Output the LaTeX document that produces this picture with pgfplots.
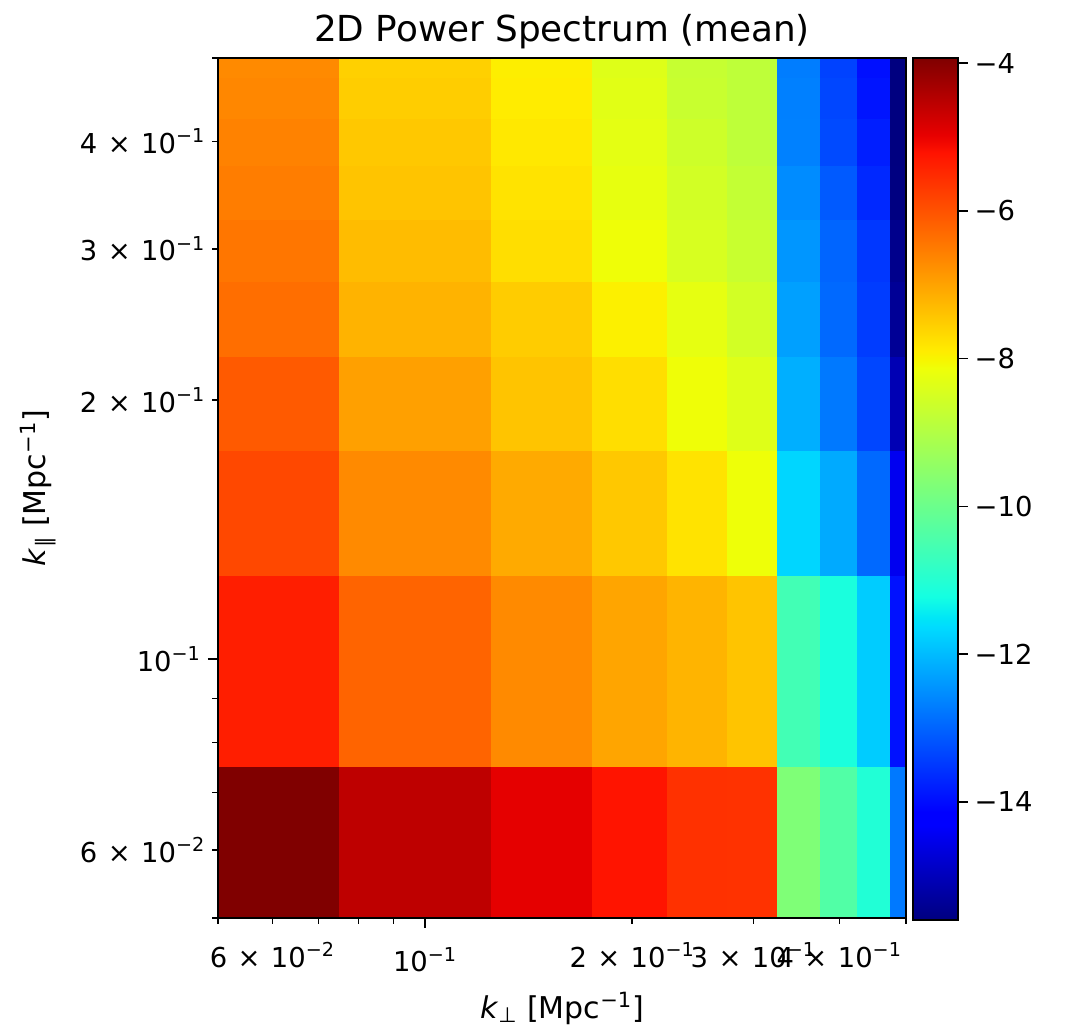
\documentclass[border=0pt]{standalone}
\usepackage{pgfplots}
\pgfplotsset{compat=1.18}
\usepackage{fontspec}
\setmainfont{DejaVu Sans}
\newcommand{\sups}[1]{\textsuperscript{#1}}
\newcommand{\tms}{\hspace{0.38em}×\hspace{0.38em}}
\newcommand{\tfont}{\fontsize{13.7}{16}\selectfont}
\newcommand{\lfont}{\fontsize{15}{18}\selectfont}
\begin{document}
\begin{tikzpicture}
\begin{axis}[
  scale only axis, width=344pt, height=430pt,
  xmode=log, ymode=log,
  xmin=0.05, xmax=0.5, ymin=0.05, ymax=0.5,
  axis on top,
  colormap={mpljet}{rgb(0cm)=(0,0,0.5); rgb(11cm)=(0,0,1); rgb(12.5cm)=(0,0,1); rgb(34cm)=(0,0.86,1); rgb(35cm)=(0,0.9,0.968); rgb(37.5cm)=(0.081,1,0.887); rgb(64cm)=(0.935,1,0.032); rgb(65cm)=(0.968,0.963,0); rgb(66cm)=(1,0.926,0); rgb(89cm)=(1,0.074,0); rgb(91cm)=(0.909,0,0); rgb(100cm)=(0.5,0,0)},
  point meta min=-15.6, point meta max=-3.93,
  xtick={0.1}, xticklabels={{10\sups{−1}}},
  extra x ticks={0.06,0.2,0.3,0.4},
  extra x tick labels={{6\tms10\sups{−2}},{2\tms10\sups{−1}},{3\tms10\sups{−1}},{4\tms10\sups{−1}}},
  extra x tick style={major tick length=2.8pt},
  ytick={0.1}, yticklabels={{10\sups{−1}}},
  extra y ticks={0.06,0.2,0.3,0.4},
  extra y tick labels={{6\tms10\sups{−2}},{2\tms10\sups{−1}},{3\tms10\sups{−1}},{4\tms10\sups{−1}}},
  extra y tick style={major tick length=2.8pt},
  minor xtick={0.05,0.07,0.08,0.09,0.5},
  minor ytick={0.05,0.07,0.08,0.09,0.5},
  tick align=outside, xtick pos=bottom, ytick pos=left,
  major tick length=5pt, minor tick length=2.8pt,
  every tick/.style={black, line width=0.8pt},
  ticklabel style={font=\tfont},
  xticklabel style={yshift=-6pt},
  label style={font=\lfont},
  xlabel style={yshift=4.5pt},
  title style={font=\fontsize{17.9}{21}\selectfont, yshift=-5pt},
  title={2D Power Spectrum (mean)},
  xlabel={\textit{k}\textsubscript{⊥}\ [Mpc\sups{−1}]},
  ylabel={\textit{k}\textsubscript{∥} [Mpc\sups{−1}]},
  axis line style={line width=0.8pt},
  colorbar right,
  colorbar/width=22.5pt,
  colorbar style={
    at={(parent axis.north east)}, anchor=north west, xshift=-5pt,
    scale only axis, height=431pt,
    ytick={-14,-12,-10,-8,-6,-4},
    yticklabels={−14,−12,−10,−8,−6,−4},
    yticklabel pos=right, ytick pos=right,
    tick align=outside, major tick length=4.8pt,
    every tick/.style={black, line width=0.8pt},
    yticklabel style={font=\tfont},
    axis line style={line width=0.8pt},
  },
]
\addplot[surf, shader=flat corner, mesh/rows=11, mesh/cols=11, point meta=explicit] coordinates {
(0.05,0.05)[-3.93] (0.075,0.05)[-4.56] (0.125,0.05)[-4.95] (0.175,0.05)[-5.23] (0.225,0.05)[-5.58] (0.275,0.05)[-5.60] (0.325,0.05)[-9.71] (0.375,0.05)[-10.37] (0.425,0.05)[-11.05] (0.475,0.05)[-12.76] (0.5,0.05)[-12.76]

(0.05,0.075)[-5.35] (0.075,0.075)[-6.22] (0.125,0.075)[-6.68] (0.175,0.075)[-7.02] (0.225,0.075)[-7.21] (0.275,0.075)[-7.40] (0.325,0.075)[-10.58] (0.375,0.075)[-11.15] (0.425,0.075)[-11.81] (0.475,0.075)[-13.95] (0.5,0.075)[-13.95]

(0.05,0.125)[-5.87] (0.075,0.125)[-6.68] (0.125,0.125)[-7.08] (0.175,0.125)[-7.45] (0.225,0.125)[-7.79] (0.275,0.125)[-8.13] (0.325,0.125)[-11.69] (0.375,0.125)[-12.20] (0.425,0.125)[-12.94] (0.475,0.125)[-14.47] (0.5,0.125)[-14.47]

(0.05,0.175)[-6.09] (0.075,0.175)[-6.96] (0.125,0.175)[-7.40] (0.175,0.175)[-7.72] (0.225,0.175)[-8.12] (0.275,0.175)[-8.36] (0.325,0.175)[-12.14] (0.375,0.175)[-12.76] (0.425,0.175)[-13.34] (0.475,0.175)[-15.07] (0.5,0.175)[-15.07]

(0.05,0.225)[-6.34] (0.075,0.225)[-7.19] (0.125,0.225)[-7.50] (0.175,0.225)[-7.94] (0.225,0.225)[-8.25] (0.275,0.225)[-8.54] (0.325,0.225)[-12.31] (0.375,0.225)[-12.94] (0.425,0.225)[-13.45] (0.475,0.225)[-15.37] (0.5,0.225)[-15.37]

(0.05,0.275)[-6.44] (0.075,0.275)[-7.30] (0.125,0.275)[-7.72] (0.175,0.275)[-8.12] (0.225,0.275)[-8.47] (0.275,0.275)[-8.68] (0.325,0.275)[-12.42] (0.375,0.275)[-12.99] (0.425,0.275)[-13.51] (0.475,0.275)[-15.47] (0.5,0.275)[-15.47]

(0.05,0.325)[-6.52] (0.075,0.325)[-7.40] (0.125,0.325)[-7.79] (0.175,0.325)[-8.23] (0.225,0.325)[-8.54] (0.275,0.325)[-8.75] (0.325,0.325)[-12.54] (0.375,0.325)[-13.11] (0.425,0.325)[-13.68] (0.475,0.325)[-15.58] (0.5,0.325)[-15.58]

(0.05,0.375)[-6.59] (0.075,0.375)[-7.45] (0.125,0.375)[-7.85] (0.175,0.375)[-8.28] (0.225,0.375)[-8.60] (0.275,0.375)[-8.82] (0.325,0.375)[-12.66] (0.375,0.375)[-13.29] (0.425,0.375)[-13.80] (0.475,0.375)[-15.60] (0.5,0.375)[-15.60]

(0.05,0.425)[-6.65] (0.075,0.425)[-7.51] (0.125,0.425)[-7.90] (0.175,0.425)[-8.32] (0.225,0.425)[-8.68] (0.275,0.425)[-8.82] (0.325,0.425)[-12.68] (0.375,0.425)[-13.34] (0.425,0.425)[-13.91] (0.475,0.425)[-15.60] (0.5,0.425)[-15.60]

(0.05,0.475)[-6.68] (0.075,0.475)[-7.55] (0.125,0.475)[-7.92] (0.175,0.475)[-8.36] (0.225,0.475)[-8.71] (0.275,0.475)[-8.82] (0.325,0.475)[-12.71] (0.375,0.475)[-13.39] (0.425,0.475)[-13.97] (0.475,0.475)[-15.60] (0.5,0.475)[-15.60]

(0.05,0.5)[-6.68] (0.075,0.5)[-7.55] (0.125,0.5)[-7.92] (0.175,0.5)[-8.36] (0.225,0.5)[-8.71] (0.275,0.5)[-8.82] (0.325,0.5)[-12.71] (0.375,0.5)[-13.39] (0.425,0.5)[-13.97] (0.475,0.5)[-15.60] (0.5,0.5)[-15.60]
};
\coordinate (sw) at (rel axis cs:0,0);
\coordinate (ne) at (rel axis cs:1,1);
\end{axis}
\path ([shift={(-109pt,-52.5pt)}]sw) rectangle ([shift={(80pt,29pt)}]ne);
\end{tikzpicture}
\end{document}
